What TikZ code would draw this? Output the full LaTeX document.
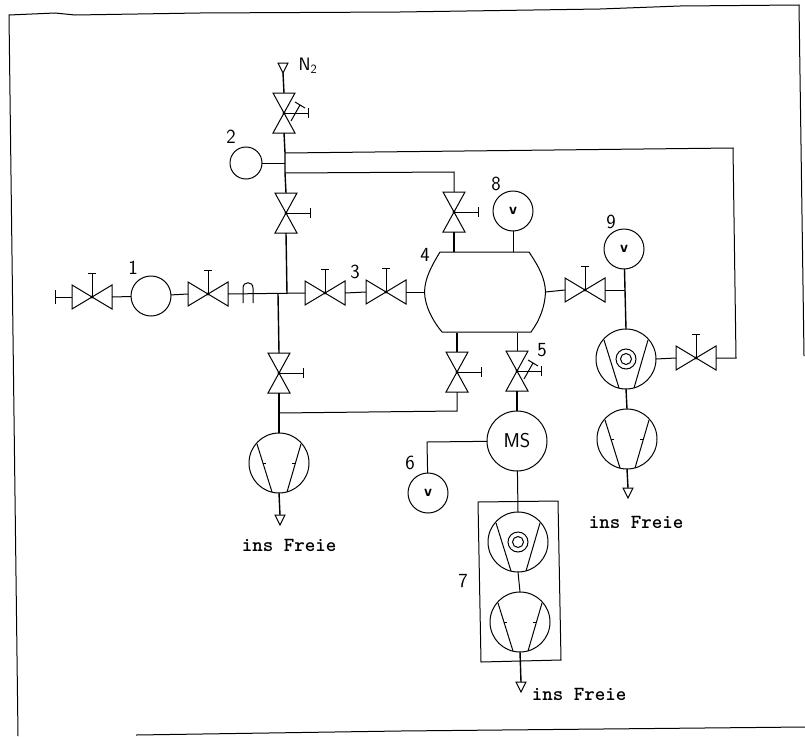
\documentclass[tikz,border=0pt]{standalone}
\newcommand{\vvalvebody}{
	\draw (-11,-20) -- (11,-20) -- (-11,20) -- (11,20) -- cycle;
	\draw (0,0) -- (24,0) (24,-5) -- (24,5);
	\fill (0,0) circle (1.6);
	\coordinate (-n) at (0,-20);
	\coordinate (-s) at (0,20);
}
\newcommand{\pumpbody}{
	\node[ring,minimum size=60pt] (-c) at (0,0) {};
	\draw (-22,-19) -- (-7,29) (22,-19) -- (8,29);
}
\tikzset{
	ring/.style={draw,circle,inner sep=0pt,outer sep=0pt},
	gauge/.style={ring,minimum size=40pt,font=\sffamily\bfseries\fontsize{16}{16}\selectfont},
	pipe/.style={line width=1.4pt},
	tag/.style={font=\sffamily\fontsize{20}{20}\selectfont,inner sep=0pt},
	freie/.style={font=\ttfamily\bfseries\fontsize{20}{20}\selectfont,inner sep=0pt},
	hvalve/.pic={
		\draw (-20,-12) -- (-20,12) -- (20,-12) -- (20,12) -- cycle;
		\draw (0,0) -- (0,-24) (-4,-24) -- (4,-24);
		\fill (0,0) circle (1.6);
		\coordinate (-w) at (-20,0);
		\coordinate (-e) at (20,0);
	},
	vvalve/.pic={\vvalvebody},
	vvalvex/.pic={
		\vvalvebody
		\draw (7,8) -- (16,-8) (11,-11) -- (21,-5);
	},
	vorpump/.pic={
		\pumpbody
		\draw (-16,0) -- (-13,0) (16,0) -- (13,0);
	},
	turbopump/.pic={
		\pumpbody
		\draw (0,0) circle (5.5) (0,0) circle (10);
	},
	outlet/.pic={
		\draw (-5,0) -- (5,0) -- (0,10) -- cycle;
		\coordinate (-t) at (0,0);
		\coordinate (-b) at (0,10);
	},
}
\begin{document}
\begin{tikzpicture}[x=1pt,y=-1pt,line width=1pt]
	\useasboundingbox (0,0) rectangle (805,736);
	% frame of the scan
	\draw (804,356) -- (799,5) -- (680,6) -- (600,9) -- (400,12) -- (200,13) -- (75,15) -- (55,13) -- (9,15) -- (18,736);
	\draw (136,735) -- (400,731) -- (805,727);
	% valves
	\pic (vn) at (284,113) {vvalvex};
	\pic (vm) at (286,213) {vvalve};
	\pic (va) at (92,297) {hvalve};
	\pic (vb) at (208,294) {hvalve};
	\pic (vc) at (325,293) {hvalve};
	\pic (vd) at (386,292) {hvalve};
	\pic (ve) at (454,212) {vvalve};
	\pic (vf) at (585,290) {hvalve};
	\pic (vg) at (457,372) {vvalve};
	\pic (vh) at (517,371) {vvalvex};
	\pic (vi) at (279,373) {vvalve};
	\pic (vk) at (696,358) {hvalve};
	% pumps
	\pic (pa) at (279,463) {vorpump};
	\pic (pb) at (626,359) {turbopump};
	\pic (pc) at (627,439) {vorpump};
	\pic (pd) at (518,542) {turbopump};
	\pic (pe) at (520,622) {vorpump};
	% outlets
	\pic (on) at (283,63) {outlet};
	\pic (oa) at (280,515) {outlet};
	\pic (oc) at (628,488) {outlet};
	\pic (oe) at (521,682) {outlet};
	% instruments
	\node[ring,minimum size=40pt] (ga) at (151,296) {};
	\node[ring,minimum size=32pt] (gb) at (246,163) {};
	\node[gauge] (gh) at (513,211) {v};
	\node[gauge] (gi) at (624,249) {v};
	\node[gauge] (gf) at (428,493) {v};
	\node[ring,minimum size=60pt,font=\sffamily\fontsize{20}{20}\selectfont] (ms) at (517,441) {MS};
	% tank
	\node[inner sep=0pt,minimum width=120pt,minimum height=80pt] (tank) at (485,292) {};
	\draw (440,252) -- (529,252) .. controls (539,267) and (545,278) .. (tank.east) .. controls (545,306) and (540,320) .. (531,332) -- (442,332) .. controls (432,320) and (425,306) .. (tank.west) .. controls (425,278) and (431,267) .. (440,252);
	% box round the pump set
	\draw (478,502) -- (558,501) -- (561,660) -- (481,662) -- cycle;
	% junctions
	\coordinate (jn) at (285,153);
	\coordinate (jg) at (285,163);
	\coordinate (ju) at (285,173);
	\coordinate (jm) at (278,294);
	\coordinate (jp) at (279,413);
	\coordinate (jr) at (625,290);
	\coordinate (cq) at (733,148);
	\coordinate (cr) at (736,358);
	\coordinate (cu) at (454,172);
	\coordinate (cv) at (457,411);
	\coordinate (cw) at (427,442);
	\coordinate (cs) at (55,297);
	% pipes
	\draw[pipe] (on-b) -- (vn-n);
	\draw[pipe] (vn-s) -- (jn) -- (jg) -- (ju) -- (vm-n);
	\draw (gb) -- (jg);
	\draw (jn) -- (cq) -- (cr) -- (vk-e);
	\draw (ju) -- (cu) -- (ve-n);
	\draw[pipe] (vm-s) -- (287,294);
	\draw (55,290) -- (55,304) (cs) -- (va-w);
	\draw (va-e) -- (ga) -- (vb-w);
	\draw (vb-e) -- (vc-w);
	\draw (vc-e) -- (vd-w);
	\draw (vd-e) -- (tank.west);
	\draw (243,303) -- (243,288) .. controls (243,281) and (253,281) .. (253,288) -- (253,303);
	\draw[pipe] (jm) -- (vi-n);
	\draw[pipe] (vi-s) -- (pa-c.north);
	\draw (jp) -- (cv) -- (vg-s);
	\draw[pipe] (pa-c.south) -- (oa-t);
	\draw[pipe] (ve-s) -- (ve-s |- tank.north);
	\draw (gh) -- (gh |- tank.north);
	\draw (tank.east) -- (vf-w);
	\draw (vf-e) -- (jr);
	\draw[pipe] (gi) -- (jr) -- (pb-c.north);
	\draw (pb-c.east) -- (vk-w);
	\draw[pipe] (pb-c.south) -- (pc-c.north);
	\draw[pipe] (pc-c.south) -- (oc-t);
	\draw[pipe] (vg-n) -- (vg-n |- tank.south);
	\draw (vh-n) -- (vh-n |- tank.south);
	\draw[pipe] (vh-s) -- (ms);
	\draw (ms) -- (cw) -- (gf);
	\draw (ms) -- (pd-c.north);
	\draw (pd-c.south) -- (pe-c.north);
	\draw[pipe] (pe-c.south) -- (oe-t);
	% labels
	\node[tag,font=\sffamily\fontsize{18}{18}\selectfont] (ln) at (308,66) {N\textsubscript{2}};
	\node[tag] (la) at (133,268) {1};
	\node[tag] (lb) at (231,137) {2};
	\node[tag] (lc) at (355,272) {3};
	\node[tag] (ld) at (425,255) {4};
	\node[tag] (le) at (542,350) {5};
	\node[tag] (lf) at (410,463) {6};
	\node[tag] (lg) at (463,581) {7};
	\node[tag] (lh) at (496,184) {8};
	\node[tag] (li) at (611,222) {9};
	\node[freie] (fa) at (289,545) {ins Freie};
	\node[freie] (fb) at (636,522) {ins Freie};
	\node[freie] (fc) at (579,694) {ins Freie};
\end{tikzpicture}
\end{document}
